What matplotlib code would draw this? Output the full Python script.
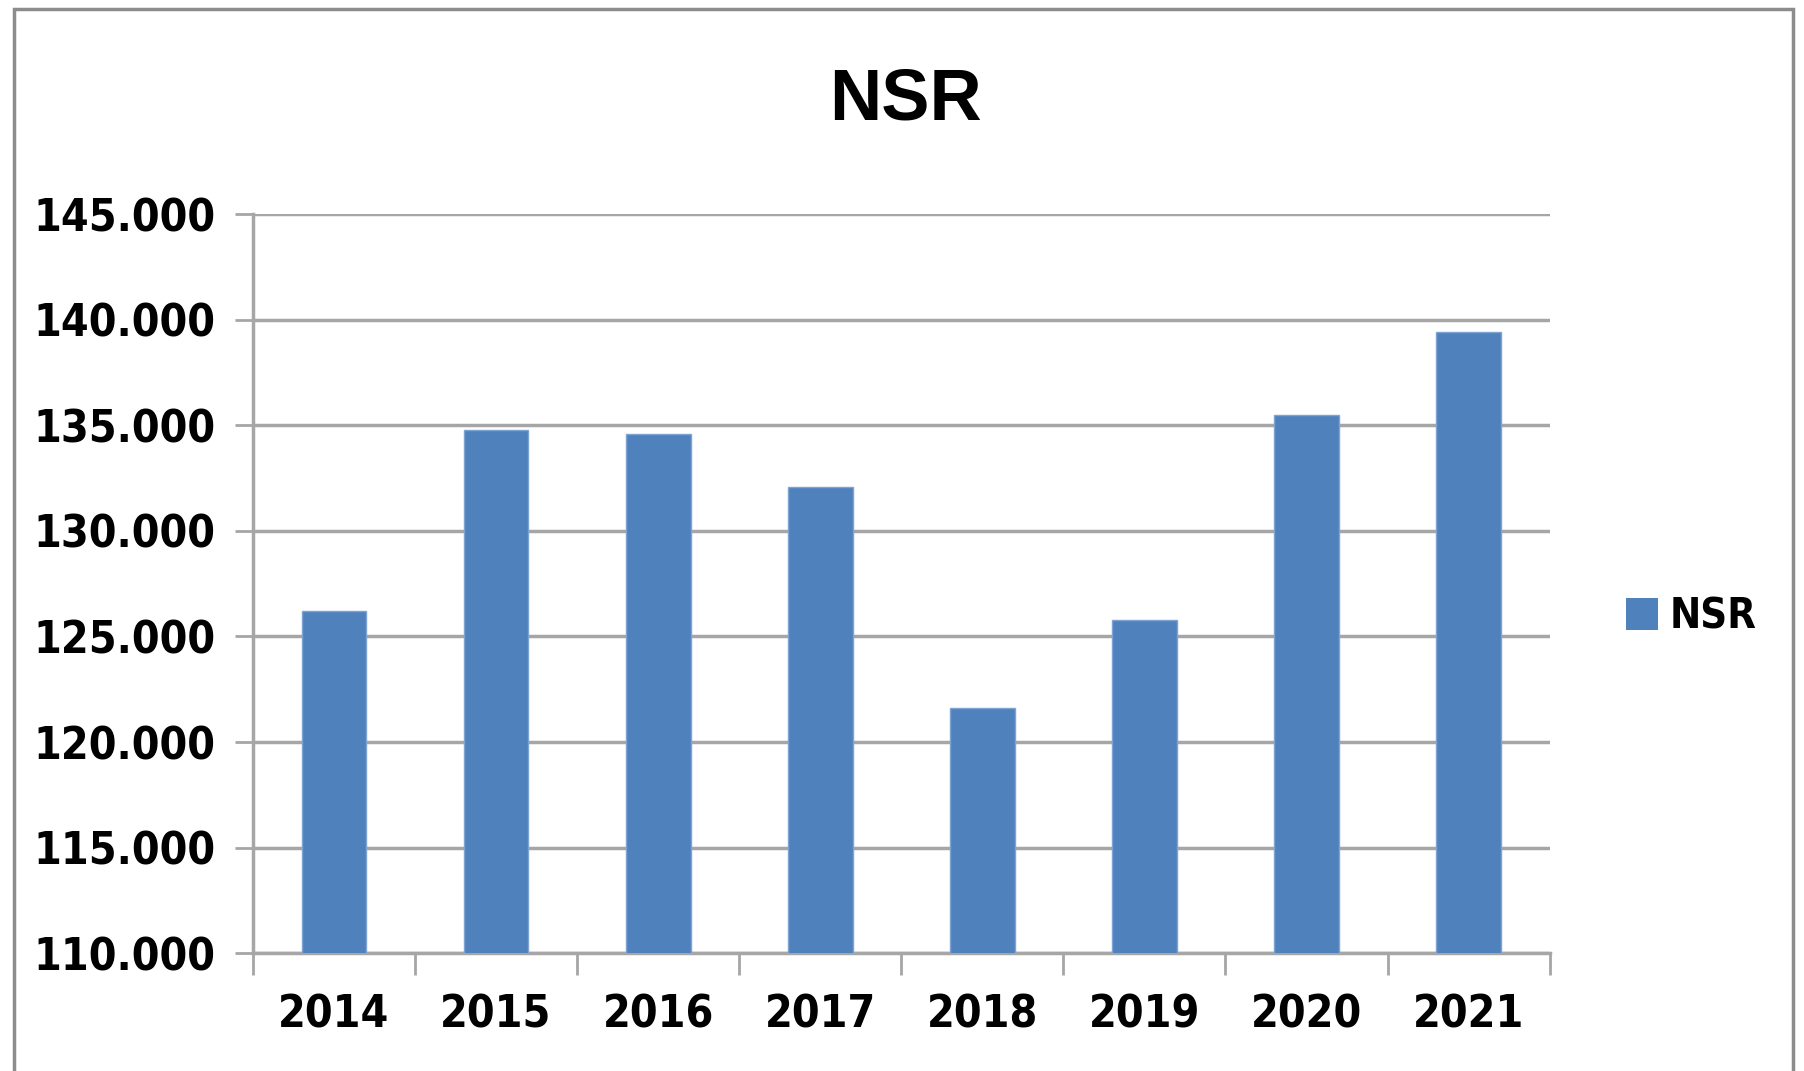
import matplotlib
matplotlib.use("Agg")
import matplotlib.pyplot as plt
from matplotlib.ticker import FuncFormatter, FixedLocator
from matplotlib.patches import Rectangle, Patch
from matplotlib import font_manager

years = ["2014", "2015", "2016", "2017", "2018", "2019", "2020", "2021"]
nsr = [126200, 134800, 134600, 132100, 121600, 125800, 135500, 139400]
y_ticks = [110000, 115000, 120000, 125000, 130000, 135000, 140000, 145000]

cond = [f for f in font_manager.fontManager.ttflist
        if f.name == "DejaVu Sans" and f.stretch == "condensed"]
stretch = "condensed" if cond else "normal"
fam = "DejaVu Sans" if cond else "Liberation Sans"
plt.rcParams['font.family'] = [fam, 'DejaVu Sans']
plt.rcParams['font.stretch'] = stretch

fig = plt.figure(figsize=(18.04, 10.71), dpi=100)
ax = fig.add_axes([0.1402, 0.110, 0.859 - 0.1402, 0.800 - 0.110])

x = list(range(len(years)))
ax.bar(x, nsr, width=0.4, color="#4F81BD", edgecolor="#7FA3D3", linewidth=1, zorder=3, label="NSR")

ax.set_ylim(110000, 145000)
ax.set_xlim(-0.5, len(years) - 0.5)
ax.yaxis.set_major_locator(FixedLocator(y_ticks))
ax.yaxis.set_major_formatter(FuncFormatter(lambda v, p: f"{int(v):,}".replace(",", ".")))
ax.grid(axis="y", color="#a6a6a6", linewidth=2.5, zorder=0)

ax.set_xticks(x)
ax.set_xticklabels(years)
ax.set_xticks([i - 0.5 for i in range(len(years) + 1)], minor=True)
ax.tick_params(axis="x", which="major", length=0, pad=29, labelsize=32)
ax.tick_params(axis="x", which="minor", length=16, width=2, color="#a6a6a6", direction="out")
ax.tick_params(axis="y", which="major", length=13, width=2, color="#a6a6a6", pad=14, labelsize=32)
for lab in ax.get_xticklabels() + ax.get_yticklabels():
    lab.set_fontweight("bold")
    lab.set_fontstretch(stretch)

for s in ["top", "right"]:
    ax.spines[s].set_visible(False)
for s in ["left", "bottom"]:
    ax.spines[s].set_color("#a6a6a6")
    ax.spines[s].set_linewidth(2.5)

fig.text(0.502, 0.906, "NSR", ha="center", va="center", fontsize=52, fontweight="bold",
         family="Liberation Sans")

leg = fig.legend(handles=[Patch(facecolor="#4F81BD", label="NSR")], loc="center left",
                 bbox_to_anchor=(0.9015, 0.424), frameon=False, fontsize=30,
                 handlelength=0.75, handleheight=0.8, handletextpad=0.3,
                 borderpad=0, borderaxespad=0)
for t in leg.get_texts():
    t.set_fontweight("bold")
    t.set_fontstretch(stretch)

fig.patches.append(Rectangle((14 / 1804, -0.02), (1793 - 14) / 1804, 1 - 9 / 1071 + 0.02,
                             transform=fig.transFigure, fill=False, edgecolor="#8c8c8c",
                             linewidth=2.5))

fig.savefig("out.png", dpi=100)
